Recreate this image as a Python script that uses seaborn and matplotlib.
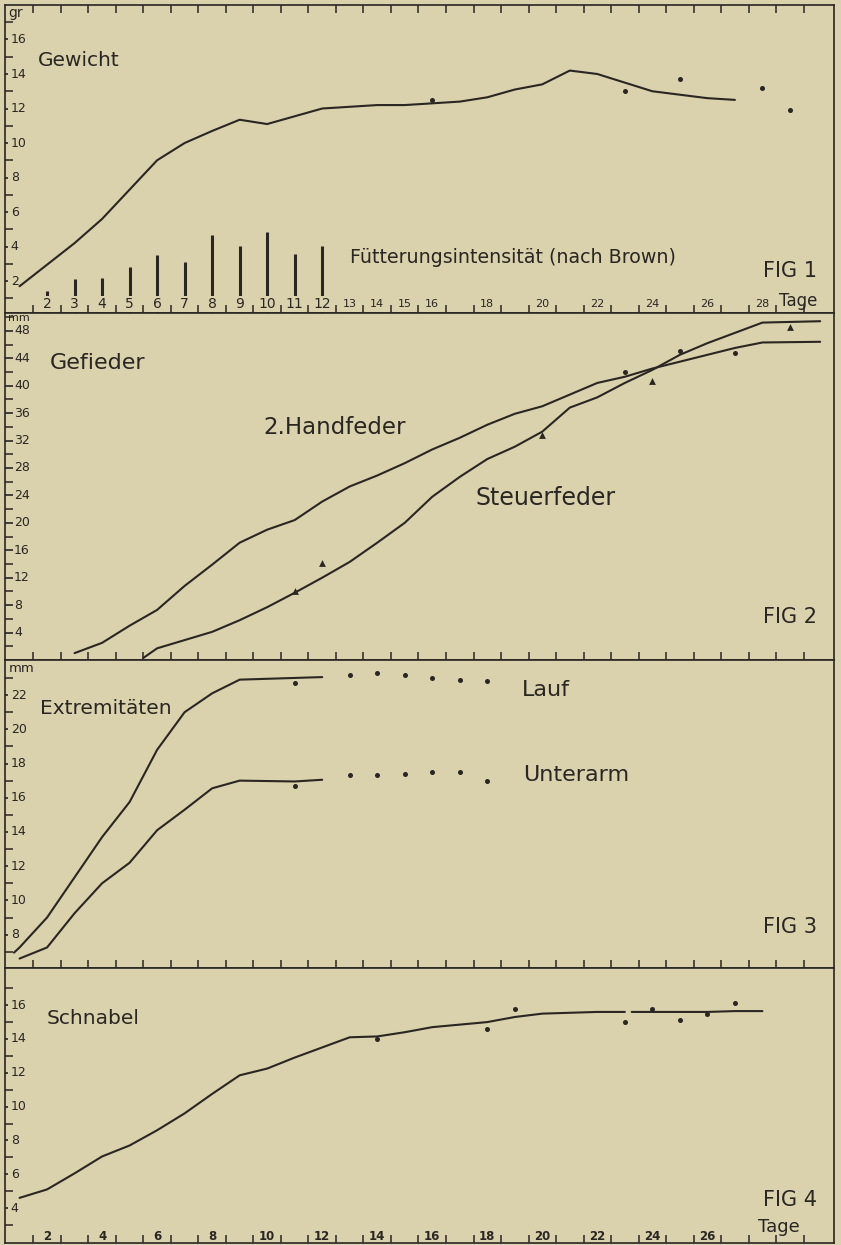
import numpy as np
import pandas as pd
import matplotlib
matplotlib.use('Agg')
import matplotlib.pyplot as plt
import seaborn as sns

# --- Daten ---
# Fig 1: Gewicht (gr)
gew_tage = list(range(1, 28))
gew_werte = [1.7, 2.95, 4.2, 5.6, 7.3, 9.0, 10.0, 10.7, 11.35, 11.1, 11.55, 12.0, 12.1, 12.2,
             12.2, 12.3, 12.4, 12.65, 13.1, 13.4, 14.2, 14.0, 13.5, 13.0, 12.8, 12.6, 12.5]
gew_pkt_tage = [16, 23, 25, 28, 29]
gew_pkt_werte = [12.5, 13.0, 13.7, 13.2, 11.9]
futter_tage = list(range(2, 13))
futter_werte = [1.4, 2.1, 2.15, 2.8, 3.5, 3.1, 4.65, 4.05, 4.85, 3.55, 4.05]

# Fig 2: Gefieder (mm)
hand_tage = list(range(3, 29)) + [30.1]
hand_werte = [1.0, 2.5, 5.0, 7.3, 10.8, 13.9, 17.1, 19.0, 20.4, 23.1, 25.3, 26.9, 28.7, 30.7,
              32.4, 34.3, 35.9, 37.0, 38.7, 40.4, 41.3, 42.5, 43.5, 44.5, 45.5, 46.3, 46.4]
hand_pkt_tage = [23, 25, 27]
hand_pkt_werte = [42.0, 45.0, 44.8]
steuer_tage = [5.5] + list(range(6, 29)) + [30.1]
steuer_werte = [0.3, 1.7, 2.9, 4.1, 5.8, 7.7, 9.8, 12.0, 14.3, 17.1, 20.0, 23.8, 26.7, 29.3,
                31.1, 33.3, 36.8, 38.3, 40.4, 42.3, 44.5, 46.2, 47.7, 49.2, 49.4]
steuer_pkt_tage = [11, 12, 20, 24, 29]
steuer_pkt_werte = [10.0, 14.2, 32.8, 40.7, 48.6]

# Fig 3: Extremitäten (mm)
lauf_tage = [0.8, 1, 2, 3, 4, 5, 6, 7, 8, 9, 12]
lauf_werte = [6.95, 7.25, 9.0, 11.35, 13.7, 15.75, 18.8, 21.0, 22.1, 22.9, 23.05]
lauf_pkt_tage = [11, 13, 14, 15, 16, 17, 18]
lauf_pkt_werte = [22.7, 23.2, 23.3, 23.2, 23.0, 22.9, 22.8]
arm_tage = [1, 2, 3, 4, 5, 6, 7, 8, 9, 11, 12]
arm_werte = [6.6, 7.25, 9.25, 11.0, 12.2, 14.1, 15.3, 16.55, 17.0, 16.95, 17.05]
arm_pkt_tage = [11, 13, 14, 15, 16, 17, 18]
arm_pkt_werte = [16.7, 17.3, 17.35, 17.4, 17.5, 17.5, 17.0]

# Fig 4: Schnabel (mm)
schn_tage_a = list(range(1, 24))
schn_werte_a = [4.6, 5.1, 6.05, 7.05, 7.7, 8.6, 9.6, 10.75, 11.85, 12.25, 12.9, 13.5, 14.1,
                14.15, 14.4, 14.7, 14.85, 15.0, 15.3, 15.5, 15.55, 15.6, 15.6]
schn_tage_b = [23.25, 24, 25, 26, 27, 28]
schn_werte_b = [15.6, 15.6, 15.6, 15.6, 15.65, 15.65]
schn_pkt_tage = [14, 18, 19, 23, 24, 25, 26, 27]
schn_pkt_werte = [14.0, 14.6, 15.8, 15.0, 15.8, 15.1, 15.45, 16.1]

# Achsenbeschriftung
fig1_xlab = [2, 3, 4, 5, 6, 7, 8, 9, 10, 11, 12, 13, 14, 15, 16, 18, 20, 22, 24, 26, 28]
fig4_xlab = [2, 4, 6, 8, 10, 12, 14, 16, 18, 20, 22, 24, 26]
gew_yt = [2, 4, 6, 8, 10, 12, 14, 16]
gef_yt = [4, 8, 12, 16, 20, 24, 28, 32, 36, 40, 44, 48]
ext_yt = [8, 10, 12, 14, 16, 18, 20, 22]
schn_yt = [4, 6, 8, 10, 12, 14, 16]

sns.set_theme(style='white')
plt.rcParams['font.family'] = ['DejaVu Sans']

paper = '#dad1ad'
ink = '#2a2622'

fig = plt.figure(figsize=(8.41, 12.45), dpi=100, facecolor=paper)
ax1 = fig.add_axes([0.0059, 0.7486, 0.9857, 0.2474])
ax2 = fig.add_axes([0.0059, 0.4699, 0.9857, 0.2787])
ax3 = fig.add_axes([0.0059, 0.2225, 0.9857, 0.2474])
ax4 = fig.add_axes([0.0059, 0.0016, 0.9857, 0.2209])


def linie(ax, x, y):
    sns.lineplot(x=x, y=y, ax=ax, color=ink, linewidth=1.5, sort=False, estimator=None)


def punkte(ax, x, y, marker='o', s=13):
    sns.scatterplot(x=x, y=y, ax=ax, color=ink, marker=marker, s=s, linewidth=0, zorder=5)


def rahmen(ax, ylim, yt, ymin, major_len, lab_x, top=False):
    ax.set_facecolor(paper)
    ax.set_xlim(0.47, 30.6)
    ax.set_ylim(*ylim)
    for s in ax.spines.values():
        s.set_visible(True)
        s.set_color(ink)
        s.set_linewidth(1.2)
    ax.set_xticks(np.arange(1.5, 30.5, 1))
    ax.set_xticklabels([])
    ax.tick_params(axis='x', direction='in', length=6, width=1.1, color=ink,
                   bottom=True, top=top, labelbottom=False)
    ax.set_yticks(yt)
    ax.set_yticks(ymin, minor=True)
    ax.set_yticklabels([])
    ax.tick_params(axis='y', which='major', direction='in', length=major_len, width=1.2,
                   color=ink, left=True, labelleft=False)
    ax.tick_params(axis='y', which='minor', direction='in', length=6, width=1.1,
                   color=ink, left=True)
    for v in yt:
        ax.text(lab_x, v, str(v), transform=ax.get_yaxis_transform(), ha='left',
                va='center', fontsize=9, color=ink)
    ax.set_xlabel('')
    ax.set_ylabel('')


# FIG 1
ax1.vlines(futter_tage, 0, futter_werte, color=ink, linewidth=2.2)
linie(ax1, gew_tage, gew_werte)
punkte(ax1, gew_pkt_tage, gew_pkt_werte)
rahmen(ax1, (0.15, 18.0), gew_yt, list(range(1, 18, 2)), 2, 0.007, top=True)
tr = ax1.get_xaxis_transform()
for d in fig1_xlab:
    ax1.text(d, 0.03, str(d), transform=tr, ha='center', va='center',
             fontsize=10 if d <= 12 else 8, color=ink, zorder=6,
             bbox=dict(facecolor=paper, edgecolor='none', pad=0.6))
ax1.text(29.3, 0.04, 'Tage', transform=tr, ha='center', va='center', fontsize=12, color=ink)
ax1.text(0.004, 0.998, 'gr', transform=ax1.transAxes, ha='left', va='top', fontsize=10, color=ink)
ax1.text(1.67, 0.82, 'Gewicht', transform=tr, ha='left', va='center', fontsize=14.5, color=ink)
ax1.text(13.0, 0.18, 'Fütterungsintensität (nach Brown)', transform=tr, ha='left',
         va='center', fontsize=13.7, color=ink)
ax1.text(30.0, 0.135, 'FIG 1', transform=tr, ha='right', va='center', fontsize=15, color=ink)

# FIG 2
linie(ax2, hand_tage, hand_werte)
linie(ax2, steuer_tage, steuer_werte)
punkte(ax2, hand_pkt_tage, hand_pkt_werte)
punkte(ax2, steuer_pkt_tage, steuer_pkt_werte, marker='^', s=24)
rahmen(ax2, (0, 50.6), gef_yt, list(range(2, 51, 4)), 6, 0.011)
tr = ax2.get_xaxis_transform()
ax2.text(0.004, 1.0, 'mm', transform=ax2.transAxes, ha='left', va='top', fontsize=8, color=ink)
ax2.text(2.11, 0.856, 'Gefieder', transform=tr, ha='left', va='center', fontsize=16, color=ink)
ax2.text(9.85, 0.669, '2.Handfeder', transform=tr, ha='left', va='center', fontsize=16.5, color=ink)
ax2.text(17.56, 0.467, 'Steuerfeder', transform=tr, ha='left', va='center', fontsize=17, color=ink)
ax2.text(30.0, 0.124, 'FIG 2', transform=tr, ha='right', va='center', fontsize=15, color=ink)

# FIG 3
linie(ax3, lauf_tage, lauf_werte)
linie(ax3, arm_tage, arm_werte)
punkte(ax3, lauf_pkt_tage, lauf_pkt_werte)
punkte(ax3, arm_pkt_tage, arm_pkt_werte)
rahmen(ax3, (6.05, 24.05), ext_yt, list(range(7, 24, 2)), 2, 0.007)
tr = ax3.get_xaxis_transform()
ax3.text(0.004, 0.972, 'mm', transform=ax3.transAxes, ha='left', va='center', fontsize=9.5, color=ink)
ax3.text(1.75, 0.844, 'Extremitäten', transform=tr, ha='left', va='center', fontsize=14.5, color=ink)
ax3.text(19.27, 0.903, 'Lauf', transform=tr, ha='left', va='center', fontsize=16, color=ink)
ax3.text(19.3, 0.627, 'Unterarm', transform=tr, ha='left', va='center', fontsize=16, color=ink)
ax3.text(30.0, 0.133, 'FIG 3', transform=tr, ha='right', va='center', fontsize=15, color=ink)

# FIG 4
linie(ax4, schn_tage_a, schn_werte_a)
linie(ax4, schn_tage_b, schn_werte_b)
punkte(ax4, schn_pkt_tage, schn_pkt_werte)
rahmen(ax4, (1.93, 18.2), schn_yt, list(range(3, 18, 2)), 2, 0.007)
tr = ax4.get_xaxis_transform()
for d in fig4_xlab:
    ax4.text(d, 0.025, str(d), transform=tr, ha='center', va='center', fontsize=8.5,
             fontweight='bold', color=ink, zorder=6)
ax4.text(28.6, 0.058, 'Tage', transform=tr, ha='center', va='center', fontsize=13, color=ink)
ax4.text(2.0, 0.818, 'Schnabel', transform=tr, ha='left', va='center', fontsize=14.5, color=ink)
ax4.text(30.0, 0.156, 'FIG 4', transform=tr, ha='right', va='center', fontsize=15, color=ink)

fig.savefig('out.png', dpi=100, facecolor=paper)
